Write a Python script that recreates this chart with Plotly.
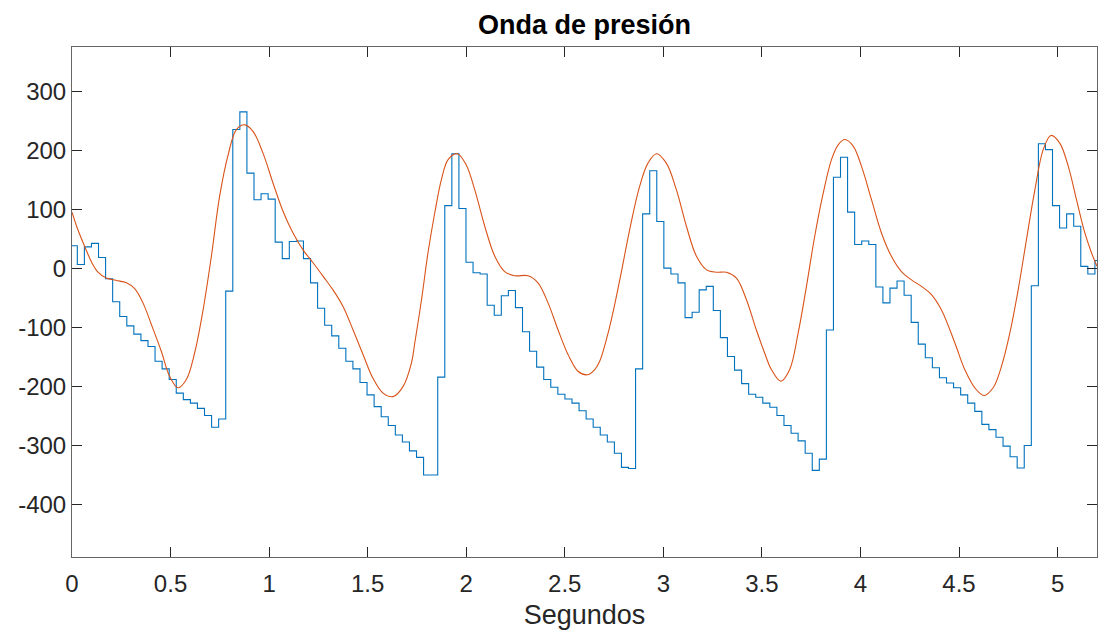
import numpy as np
import plotly.graph_objects as go

# ---------------- data ----------------
# Blue sampled (sample-and-hold) signal: sample period and first sample time
SAMPLE_T0 = -0.00885
SAMPLE_DT = 0.03585
blue_values = [
    39, 7, 37, 43, 19, -17, -56, -81, -97, -111,
    -122, -132, -157, -170, -188, -211, -222, -228, -237, -249,
    -269, -255, -38, 236, 266, 162, 117, 127, 118, 45,
    17, 46, 47, 17, -24, -67, -96, -114, -135, -157,
    -170, -193, -214, -234, -251, -266, -282, -294, -309, -320,
    -350, -350, -184, 107, 195, 102, 11, -7, -9, -62,
    -79, -46, -37, -66, -107, -140, -167, -188, -201, -213,
    -221, -228, -241, -255, -269, -282, -294, -313, -337, -339,
    -170, 93, 166, 80, 1, -9, -24, -83, -74, -36,
    -30, -71, -117, -149, -172, -195, -213, -218, -228, -235,
    -249, -266, -279, -292, -313, -342, -323, -104, 155, 189,
    96, 41, 47, 41, -31, -58, -33, -21, -45, -91,
    -128, -151, -168, -185, -194, -202, -214, -228, -242, -264,
    -273, -286, -301, -319, -338, -300, -29, 212, 202, 107,
    69, 93, 72, 4, -9, 14, 14,
]

# Orange smooth curve
orange_t = [
    0.000, 0.030, 0.064, 0.098, 0.132, 0.174, 0.225, 0.276, 0.318, 0.360,
    0.403, 0.453, 0.496, 0.538, 0.580, 0.622, 0.665, 0.707, 0.749, 0.792,
    0.834, 0.876, 0.918, 0.969, 1.020, 1.071, 1.122, 1.172, 1.223, 1.274,
    1.324, 1.375, 1.426, 1.477, 1.527, 1.578, 1.629, 1.679, 1.722, 1.739,
    1.773, 1.806, 1.840, 1.874, 1.908, 1.955, 2.000, 2.043, 2.094, 2.145,
    2.195, 2.246, 2.314, 2.364, 2.415, 2.466, 2.517, 2.567, 2.614, 2.652,
    2.677, 2.728, 2.779, 2.829, 2.880, 2.922, 2.965, 3.015, 3.066, 3.117,
    3.168, 3.219, 3.269, 3.320, 3.371, 3.422, 3.472, 3.514, 3.548, 3.596,
    3.641, 3.684, 3.726, 3.768, 3.811, 3.853, 3.887, 3.921, 3.963, 4.005,
    4.056, 4.106, 4.157, 4.208, 4.259, 4.309, 4.360, 4.411, 4.479, 4.529,
    4.580, 4.627, 4.673, 4.715, 4.758, 4.800, 4.842, 4.885, 4.927, 4.966,
    5.011, 5.054, 5.096, 5.138, 5.172, 5.200,
]
orange_v = [
    96, 66, 38, 12, -6, -16, -20, -24, -34, -58,
    -95, -140, -183, -202, -188, -143, -70, 21, 123, 193,
    236, 244, 233, 196, 145, 97, 60, 32, 10, -13,
    -36, -64, -104, -146, -186, -211, -217, -200, -160, -126,
    -53, 27, 94, 151, 185, 195, 176, 134, 72, 21,
    -5, -12, -12, -24, -58, -104, -146, -174, -180, -171,
    -157, -98, -19, 66, 140, 179, 195, 179, 134, 72,
    21, -2, -6, -6, -16, -53, -104, -143, -171, -191,
    -171, -109, -30, 55, 128, 185, 210, 219, 208, 174,
    117, 61, 21, -5, -19, -30, -44, -70, -126, -171,
    -202, -215, -202, -166, -109, -36, 49, 134, 202, 226,
    213, 174, 117, 61, 27, 4,
]

x_tick_vals = [0, 0.5, 1, 1.5, 2, 2.5, 3, 3.5, 4, 4.5, 5]
x_tick_text = ["0", "0.5", "1", "1.5", "2", "2.5", "3", "3.5", "4", "4.5", "5"]
y_tick_vals = [-400, -300, -200, -100, 0, 100, 200, 300]
y_tick_text = ["-400", "-300", "-200", "-100", "0", "100", "200", "300"]

title_text = "Onda de presión"
x_title = "Segundos"

# ---------------- figure ----------------
blue_t = SAMPLE_T0 + SAMPLE_DT * np.arange(len(blue_values))

fig = go.Figure()
fig.add_trace(go.Scatter(
    x=blue_t, y=blue_values, mode="lines",
    line=dict(color="#0072BD", width=1.1, shape="hv"),
    showlegend=False, hoverinfo="skip",
))
fig.add_trace(go.Scatter(
    x=orange_t, y=orange_v, mode="lines",
    line=dict(color="#D95319", width=1.1, shape="spline", smoothing=1.0),
    showlegend=False, hoverinfo="skip",
))

axis_col = "#262626"
font_fam = "Liberation Sans, Arial, Helvetica, sans-serif"

fig.update_layout(
    width=1098, height=632,
    margin=dict(l=72, r=1, t=47, b=75),
    paper_bgcolor="white", plot_bgcolor="white",
    font=dict(family=font_fam, size=24, color=axis_col),
    title=dict(
        text="<b>" + title_text + "</b>",
        x=0.5, xref="paper", xanchor="center",
        y=1 - 25 / 632, yref="container", yanchor="middle",
        font=dict(family=font_fam, size=27, color="#000000"),
    ),
    xaxis=dict(
        range=[0, 5.2], tickmode="array", tickvals=x_tick_vals, ticktext=x_tick_text,
        ticks="inside", ticklen=10, tickwidth=1, tickcolor=axis_col,
        ticklabelstandoff=5,
        showline=True, linecolor="#666666", linewidth=1, mirror="ticks",
        showgrid=False, zeroline=False,
        tickfont=dict(size=24, color=axis_col),
        title=dict(text=x_title, font=dict(size=27, color=axis_col), standoff=9),
    ),
    yaxis=dict(
        range=[-489, 376], tickmode="array", tickvals=y_tick_vals, ticktext=y_tick_text,
        ticks="inside", ticklen=10, tickwidth=1, tickcolor=axis_col,
        showline=True, linecolor="#666666", linewidth=1, mirror="ticks",
        showgrid=False, zeroline=False,
        tickfont=dict(size=24, color=axis_col),
    ),
)

fig.write_html("out.html")
